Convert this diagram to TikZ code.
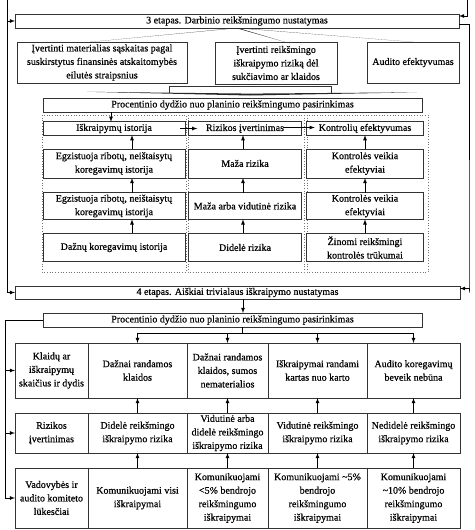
\documentclass[tikz,border=0pt]{standalone}
\usepackage{fontspec}
\setmainfont{Liberation Serif}[RawFeature={embolden=0.6}]
\usepackage{tikz}
\usetikzlibrary{arrows}
\tikzset{
  box/.style={draw=black!80, line width=0.8pt, fill=white, align=center, inner sep=0pt, outer sep=0pt, font=\fontsize{10}{13.5}\selectfont},
  dotcol/.style={draw=black!55, dotted, line width=0.7pt},
  arr/.style={-latex, line width=0.8pt},
  wedge/.style={fill=black!85}
}

\begin{document}
\begin{tikzpicture}[x=1pt, y=-1pt]
        \useasboundingbox[fill=white] (0,0) rectangle (474,530);

        % 3 etapas
        \node[box, minimum width=444, minimum height=14] (et3) at (237,21) {3 etapas. Darbinio reikšmingumo nustatymas};
        \node[box, minimum width=170, minimum height=41] (mat) at (102,62.5) {Įvertinti materialias sąskaitas pagal\\ suskirstytus finansinės atskaitomybės\\ eilutės straipsnius};
        \node[box, minimum width=122, minimum height=42] (suk) at (276,63) {Įvertinti reikšmingo\\ iškraipymo riziką dėl\\ sukčiavimo ar klaidos};
        \node[box, minimum width=92, minimum height=41] (aef) at (413,62.5) {Audito efektyvumas};
        \fill[wedge] ([xshift=-1.2pt]et3.south) -- ([xshift=1.2pt]et3.south) -- ([xshift=-12pt]mat.north) -- cycle;
        \fill[wedge] ([xshift=-1.2pt]et3.south) -- ([xshift=1.2pt]et3.south) -- ([xshift=9pt]suk.north) -- cycle;
        \fill[wedge] ([xshift=-1.2pt]et3.south) -- ([xshift=1.2pt]et3.south) -- (aef.north) -- cycle;
        \fill[wedge] (87,91.8) -- (250,95.5) -- (417,92.3) -- (250,93.6) -- cycle;
        \draw[line width=0.6pt, black!80] (169,93) -- (169,86) -- (331,86) -- (331,93);

        \node[box, minimum width=379, minimum height=14] (proc3) at (232.5,105) {Procentinio dydžio nuo planinio reikšmingumo pasirinkimas};

        % stulpeliai
        \draw[dotcol] (42,115) rectangle (186,272);
        \draw[dotcol] (188,115) rectangle (304,272);
        \draw[dotcol] (307,115) rectangle (428,272);

        \node[box, minimum width=142, minimum height=13.3] (ist1) at (114,128.5) {Iškraipymų istorija};
        \node[box, minimum width=142, minimum height=29] (ist2) at (114,163.5) {Egzistuoja ribotų, neištaisytų\\ koregavimų istorija};
        \node[box, minimum width=142, minimum height=26.7] (ist3) at (114,206) {Egzistuoja ribotų, neištaisytų\\ koregavimų istorija};
        \node[box, minimum width=142, minimum height=28.4] (ist4) at (114,247.5) {Dažnų koregavimų istorija};

        \node[box, minimum width=113.4, minimum height=13.3] (riz1) at (245,128.5) {Rizikos įvertinimas};
        \node[box, minimum width=113.4, minimum height=29] (riz2) at (245,163.5) {Maža rizika};
        \node[box, minimum width=113.4, minimum height=26.7] (riz3) at (245,206) {Maža arba vidutinė rizika};
        \node[box, minimum width=113.4, minimum height=28.4] (riz4) at (245,247.5) {Didelė rizika};

        \node[box, minimum width=116.6, minimum height=13.3] (kon1) at (365,128.5) {Kontrolių efektyvumas};
        \node[box, minimum width=116.6, minimum height=29] (kon2) at (365,163.5) {Kontrolės veikia\\ efektyviai};
        \node[box, minimum width=116.6, minimum height=26.7] (kon3) at (365,206) {Kontrolės veikia\\ efektyviai};
        \node[box, minimum width=116.6, minimum height=28.4] (kon4) at (365,247.5) {Žinomi reikšmingi\\ kontrolės trūkumai};

        \draw[arr] ([xshift=-3pt]ist1.north |- proc3.south) -- ([xshift=-3pt]ist1.north);
        \foreach \a/\b in {ist2/ist1, ist3/ist2, ist4/ist3}
            \draw[arr] ([xshift=18pt]\a.north) -- ([xshift=18pt]\b.south);
        \foreach \a/\b in {riz2/riz1, riz3/riz2, riz4/riz3}
            \draw[arr] ([xshift=-2pt]\a.north) -- ([xshift=-2pt]\b.south);
        \foreach \a/\b in {kon2/kon1, kon3/kon2, kon4/kon3}
            \draw[arr] (\a.north) -- (\b.south);
        \draw[arr] ([xshift=-5pt]ist1.east) -- ([xshift=9pt]riz1.west);
        \draw[arr] ([xshift=-19pt, yshift=1pt]riz1.east) -- ([xshift=8pt, yshift=1pt]kon1.west);

        % 4 etapas
        \node[box, minimum width=445, minimum height=13] (et4) at (237.5,292.5) {4 etapas. Aiškiai trivialaus iškraipymo nustatymas};
        \node[box, minimum width=379, minimum height=14] (proc4) at (232.5,320) {Procentinio dydžio nuo planinio reikšmingumo pasirinkimas};
        \draw[arr] ([xshift=5.5pt]et4.south) -- ([xshift=5.5pt]et4.south |- proc4.north);

        % soniniai
        \coordinate (topL) at (7,0);
        \coordinate (topR) at (467,0);
        \coordinate (outR) at (469,0);
        \draw[line width=0.8pt] (topL) -- (topL |- et4.west);
        \draw[arr] (topL |- et3.west) -- (et3.west);
        \draw[arr] (topL |- et4.west) -- (et4.west);
        \draw[arr] (topR) |- ([yshift=5pt]et3.east);
        \draw[arr] ([yshift=-3pt]et3.east) -| (outR |- et4.east) |- ([yshift=4pt]et4.east);

        % lentele
        \node[box, minimum width=73, minimum height=55] (a1) at (51.5,370.5) {Klaidų ar\\ iškraipymų\\ skaičius ir dydis};
        \node[box, minimum width=99, minimum height=55] (a2) at (137.5,370.5) {Dažnai randamos\\ klaidos};
        \node[box, minimum width=81, minimum height=55] (a3) at (227.5,370.5) {Dažnai randamos\\ klaidos, sumos\\ nematerialios};
        \node[box, minimum width=99, minimum height=55] (a4) at (317.5,370.5) {Iškraipymai randami\\ kartas nuo karto};
        \node[box, minimum width=93, minimum height=55] (a5) at (413.5,370.5) {Audito koregavimų\\ beveik nebūna};

        \node[box, minimum width=73, minimum height=40] (r1) at (51.5,433) {Rizikos\\ įvertinimas};
        \node[box, minimum width=99, minimum height=40] (r2) at (137.5,433) {Didelė reikšmingo\\ iškraipymo rizika};
        \node[box, minimum width=81, minimum height=40] (r3) at (227.5,433) {Vidutinė arba\\ didelė reikšmingo\\ iškraipymo rizika};
        \node[box, minimum width=99, minimum height=40] (r4) at (317.5,433) {Vidutinė reikšmingo\\ iškraipymo rizika};
        \node[box, minimum width=93, minimum height=40] (r5) at (413.5,433) {Nedidelė reikšmingo\\ iškraipymo rizika};

        \node[box, minimum width=73, minimum height=60] (l1) at (51.5,498) {Vadovybės ir\\ audito komiteto\\ lūkesčiai};
        \node[box, minimum width=99, minimum height=60] (l2) at (137.5,498) {Komunikuojami visi\\ iškraipymai};
        \node[box, minimum width=81, minimum height=60] (l3) at (227.5,498) {Komunikuojami\\ <5\% bendrojo\\ reikšmingumo\\ iškraipymai};
        \node[box, minimum width=99, minimum height=60] (l4) at (317.5,498) {Komunikuojami \textasciitilde5\%\\ bendrojo\\ reikšmingumo\\ iškraipymai};
        \node[box, minimum width=93, minimum height=60] (l5) at (413.5,498) {Komunikuojami\\ \textasciitilde10\% bendrojo\\ reikšmingumo\\ iškraipymai};

        \draw[line width=0.8pt] ([xshift=10pt]proc4.south) -- ++(0,6) coordinate (fork);
        \draw[line width=0.8pt] (fork -| a2.north) -- (fork -| a5.north);
        \foreach \c in {a2, a3, a4, a5}
            \draw[arr] (fork -| \c.north) -- (\c.north);
        \foreach \i in {2,...,5} {
            \draw[arr] (l\i.north) -- (r\i.south);
            \draw[arr] (r\i.north) -- (a\i.south);
        }
        \draw[line width=0.8pt] (proc4.west) -- ++(-38,0) coordinate (fb) -- (fb |- l1.west);
        \foreach \c in {a1, r1, l1}
            \draw[arr] (fb |- \c.west) -- (\c.west);
    \end{tikzpicture}
\end{document}
